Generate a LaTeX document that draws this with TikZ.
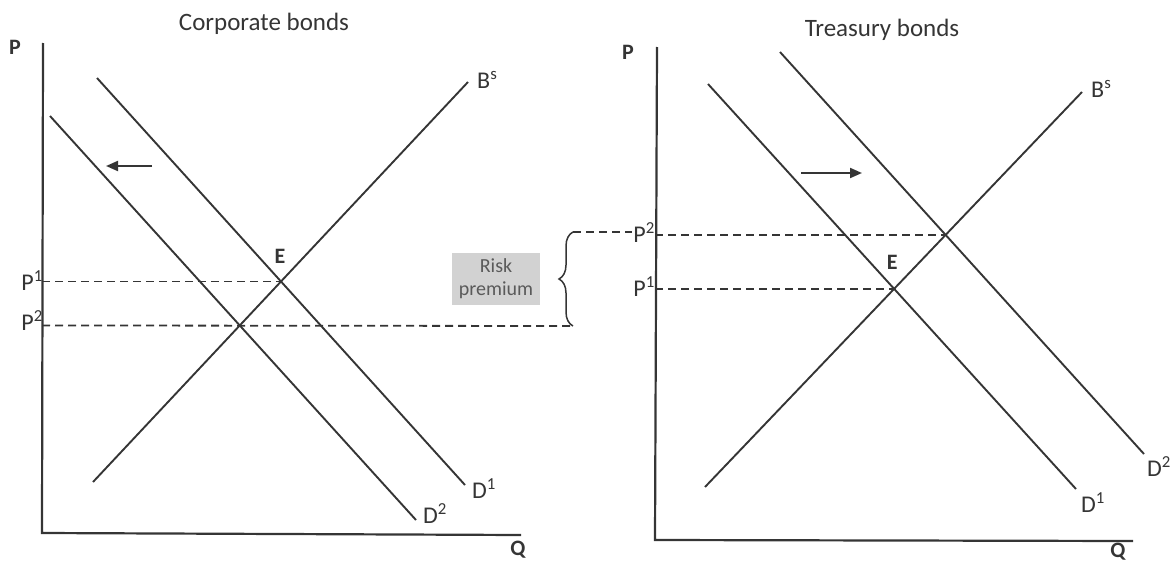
\documentclass[tikz,border=0pt]{standalone}
\usepackage{fontspec}
\setmainfont{Carlito}
\usetikzlibrary{calc,positioning,intersections,decorations.pathreplacing,arrows.meta}
\definecolor{inkgray}{HTML}{353535}
\definecolor{boxgray}{HTML}{D2D2D2}
\definecolor{boxtext}{HTML}{5A5A5A}
\tikzset{
	curve/.style={line width=1.9pt, color=inkgray},
	axisline/.style={line width=2.2pt, color=inkgray},
	guide/.style={line width=1.8pt, color=inkgray, dash pattern=on 8pt off 5pt},
	lbl/.style={text=inkgray, inner sep=1pt, font=\fontsize{24}{26}\selectfont},
	axlbl/.style={lbl, font=\fontsize{22}{24}\selectfont\bfseries},
	ttl/.style={text=inkgray, inner sep=0pt, font=\fontsize{25}{28}\selectfont},
	shiftarrow/.style={line width=2pt, color=inkgray, -{Triangle[length=12pt,width=10pt]}},
	riskbox/.style={fill=boxgray, text=boxtext, align=center, minimum width=88pt, minimum height=52pt, inner sep=0pt, font=\fontsize{20}{23}\selectfont}
}

\begin{document}
\begin{tikzpicture}[x=1pt,y=-1pt]
			%%%%% START %%%%%
			\useasboundingbox (0,0) rectangle (1173,562);
			
			%%%%% corporate bonds %%%%%
			\node[ttl] (ttlL) at (264,24) {Corporate bonds};
			\coordinate (LTop) at (43,43);
			\coordinate (LO) at (42,533);
			\coordinate (LEnd) at (521,535);
			\draw[axisline] (LTop) -- (LO) -- (LEnd);
			\node[axlbl] (LP) at (15,47) {P};
			\node[axlbl] (LQ) at (518,550) {Q};
			
			\draw[curve, name path=LBs] (93,482) coordinate (LBsa) -- (468,82) coordinate (LBsb);
			\draw[curve, name path=LD1] (97,78) coordinate (LD1a) -- (465,485) coordinate (LD1b);
			\draw[curve, name path=LD2] (50,116) coordinate (LD2a) -- (416,520) coordinate (LD2b);
			\path[name intersections={of=LBs and LD1, by=LE1}];
			\path[name intersections={of=LBs and LD2, by=LE2}];
			
			\node[lbl, anchor=west] (LBsL) at ($(LBsb)+(8,-2)$) {B\textsuperscript{s}};
			\node[lbl, anchor=west] (LD1L) at ($(LD1b)+(6,4)$) {D\textsuperscript{1}};
			\node[lbl, anchor=west] (LD2L) at ($(LD2b)+(6,-6)$) {D\textsuperscript{2}};
			\node[axlbl] (LEL) at ($(LE1)+(-1,-25)$) {E};
			
			\node[lbl, anchor=east] (LP1) at ($(LO |- LE1)+(2,-1)$) {P\textsuperscript{1}};
			\node[lbl, anchor=east] (LP2) at ($(LO |- LE2)+(2,-5)$) {P\textsuperscript{2}};
			\draw[guide] (LO |- LE1) -- (LE1);
			
			\coordinate (ArLa) at (152,166);
			\coordinate (ArLb) at (106,166);
			\draw[shiftarrow] (ArLa) -- (ArLb);
			
			%%%%% risk premium %%%%%
			\coordinate (BrBot) at (573,326);
			\coordinate (BrTop) at (573,232);
			\draw[guide] (LO |- LE2) -- (BrBot);
			\draw[line width=1.5pt, color=inkgray, decorate, decoration={brace, amplitude=14pt}] (BrBot) -- (BrTop);
			\node[riskbox] (risk) at (496,279) {Risk\\premium};
			
			%%%%% treasury bonds %%%%%
			\node[ttl] (ttlR) at (882,30) {Treasury bonds};
			\coordinate (RTop) at (657,47);
			\coordinate (RO) at (655,540);
			\coordinate (REnd) at (1133,541);
			\draw[axisline] (RTop) -- (RO) -- (REnd);
			\node[axlbl] (RP) at (628,52) {P};
			\node[axlbl] (RQ) at (1118,552) {Q};
			
			\draw[curve, name path=RBs] (705,487) coordinate (RBsa) -- (1082,92) coordinate (RBsb);
			\draw[curve, name path=RD1] (708,84) coordinate (RD1a) -- (1076,489) coordinate (RD1b);
			\draw[curve, name path=RD2] (780,52) coordinate (RD2a) -- (1144,454) coordinate (RD2b);
			\path[name intersections={of=RBs and RD1, by=RE1}];
			\path[name intersections={of=RBs and RD2, by=RE2}];
			
			\node[lbl, anchor=west] (RBsL) at ($(RBsb)+(8,-3)$) {B\textsuperscript{s}};
			\node[lbl, anchor=west] (RD1L) at ($(RD1b)+(4,14)$) {D\textsuperscript{1}};
			\node[lbl, anchor=west] (RD2L) at ($(RD2b)+(2,13)$) {D\textsuperscript{2}};
			\node[axlbl] (REL) at ($(RE1)+(-2,-26)$) {E};
			
			\node[lbl, anchor=east] (RP1) at ($(RO |- RE1)+(1,-2)$) {P\textsuperscript{1}};
			\node[lbl, anchor=east] (RP2) at ($(RO |- RE2)+(1,-2)$) {P\textsuperscript{2}};
			\draw[guide] (RO |- RE1) -- (RE1);
			\draw[guide] (RO |- RE2) -- (RE2);
			\draw[guide] (BrTop) -- (RP2.west |- BrTop);
			
			\coordinate (ArRa) at (801,173);
			\coordinate (ArRb) at (862,173);
			\draw[shiftarrow] (ArRa) -- (ArRb);
			
			%%%%% END %%%%%
\end{tikzpicture}
\end{document}
